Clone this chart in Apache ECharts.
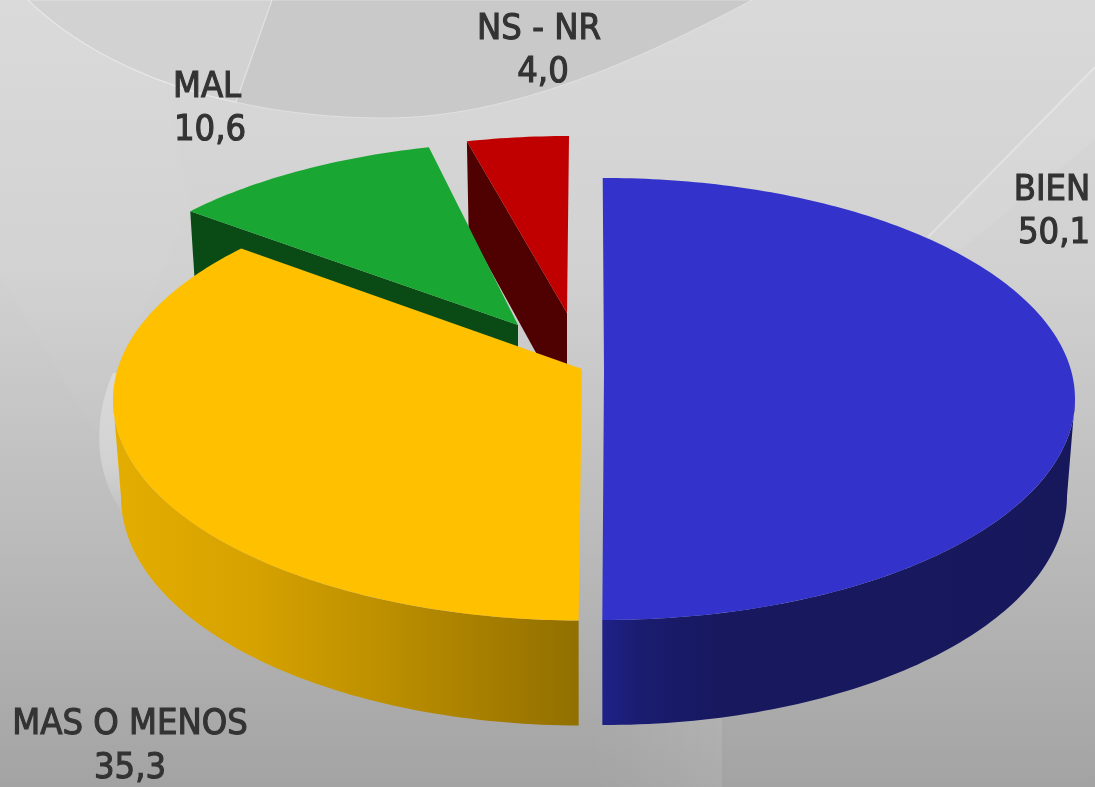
<!DOCTYPE html>
<html>
<head>
<meta charset="utf-8">
<style>html,body{margin:0;padding:0;background:#ccc}#c{width:1095px;height:787px}</style>
<script src="https://cdn.jsdelivr.net/npm/echarts@6/dist/echarts.min.js"></script>
</head>
<body>
<div id="c"></div>
<script>
const categories = ['BIEN', 'MAS O MENOS', 'MAL', 'NS - NR'];
const values = [50.1, 35.3, 10.6, 4.0];

const topColors = ['#3333cc', '#ffc000', '#1aa632', '#c00000'];
const sideColors = ['#16185e', '#b58a00', '#0a4a14', '#4f0000'];
const wallStops = [
  [[0, '#1f2188'], [0.08, '#1a1c70'], [0.25, '#17185e'], [1, '#17185c']],
  [[0, '#e4ad00'], [0.3, '#d6a200'], [0.6, '#bb8e00'], [0.85, '#a17a00'], [1, '#917000']],
  null, null
];
// exploded-slice geometry, one row per slice
const sliceCx = [604, 582, 531, 569];
const sliceCy = [399, 400, 363, 357];
const sliceRx = [471, 469, 469, 469];
const sliceRy = [221, 220.5, 221, 221];
const apexX = [604, 582, 518, 567];
const apexY = [370, 369, 325, 313];
const sliceRot = [-0.18, 0, 0, 0];
const nameX = [1052, 130, 207, 539];
const valueX = [1054, 130, 210, 543];
const nameY = [191, 725, 88, 30];
const valueY = [234, 769, 131, 73];

const persp = 0.136, rimDepth = 97, rimGrow = 8, rimShrink = 8, apexDepth = 96;
const total = values.reduce((a, b) => a + b, 0);

function rim(deg, i, bottom) {
  const t = deg * Math.PI / 180, u = Math.sin(t), v = -Math.cos(t), d = 1 - persp * v;
  const vp = (v - persp) / d, up = u * Math.sqrt(1 - persp * persp) / d;
  const rx = sliceRx[i] - (bottom ? rimShrink : 0), ry = sliceRy[i] + (bottom ? rimGrow : 0);
  return [sliceCx[i] + rx * up, sliceCy[i] + (bottom ? rimDepth : 0) + ry * vp];
}
function arc(a, b, i, bottom) {
  const pts = [], n = Math.max(2, Math.ceil(Math.abs(b - a)));
  for (let j = 0; j <= n; j++) pts.push(rim(a + (b - a) * j / n, i, bottom));
  return pts;
}

function renderItem(params, api) {
  const i = api.value(0), val = api.value(1);
  let before = 0;
  for (let j = 0; j < i; j++) before += values[j];
  const a = before / total * 360 + sliceRot[i];
  const b = (before + val) / total * 360 + sliceRot[i];
  const children = [];
  const apex = [apexX[i], apexY[i]], apexB = [apexX[i], apexY[i] + apexDepth];
  const frontLo = 97.8, frontHi = 262.2;
  const lo = Math.max(a, frontLo), hi = Math.min(b, frontHi);
  if (hi > lo) {
    const pts = arc(lo, hi, i, false).concat(arc(lo, hi, i, true).reverse());
    const xs = pts.map(p => p[0]);
    children.push({
      type: 'polygon', shape: { points: pts },
      style: { fill: new echarts.graphic.LinearGradient(Math.min(...xs), 0, Math.max(...xs), 0,
        wallStops[i].map(s => ({ offset: s[0], color: s[1] })), true) }
    });
  }
  if (a > 270 && a < 360) {
    children.push({
      type: 'polygon',
      shape: { points: [rim(a, i, false), apex, apexB, rim(a, i, true)] },
      style: { fill: sideColors[i] }
    });
  }
  children.push({
    type: 'polygon', shape: { points: [apex].concat(arc(a, b, i, false)) },
    style: { fill: topColors[i] }
  });
  const font = { fontFamily: '"DejaVu Sans Condensed","DejaVu Sans",sans-serif', fontSize: 36, fontWeight: 'normal' };
  children.push({
    type: 'text', z2: 50,
    style: Object.assign({ text: categories[i], x: nameX[i], y: nameY[i], align: 'center',
      verticalAlign: 'middle', fill: '#333333', stroke: '#333333', lineWidth: 1.1 }, font)
  });
  children.push({
    type: 'text', z2: 50,
    style: Object.assign({ text: val.toFixed(1).replace('.', ','), x: valueX[i], y: valueY[i], align: 'center',
      verticalAlign: 'middle', fill: '#333333', stroke: '#333333', lineWidth: 1.1 }, font)
  });
  return { type: 'group', children };
}

function backdrop() {
  return { type: 'group', children: [
    { type: 'path', shape: { pathData: 'M0,275 L97,435 L113,375 L190,210 L150,0 L0,0 Z' },
      style: { fill: 'rgba(255,255,255,0.03)' } },
    { type: 'path', shape: { pathData: 'M28,0 C100,70 230,118 385,118 C510,118 640,60 752,0 Z' },
      style: { fill: '#c9c9c9', stroke: 'rgba(240,240,240,0.5)', lineWidth: 1 } },
    { type: 'path', shape: { pathData: 'M28,0 C85,55 165,88 236,102 L272,0 Z' },
      style: { fill: '#d2d2d2', stroke: 'rgba(240,240,240,0.6)', lineWidth: 1.2 } },
    { type: 'path', shape: { pathData: 'M1095,67 L928,237 L960,250 L1095,140 Z' },
      style: { fill: 'rgba(255,255,255,0.08)' } },
    { type: 'path', shape: { pathData: 'M1095,67 L928,237' },
      style: { fill: 'none', stroke: 'rgba(255,255,255,0.3)', lineWidth: 2 } },
    { type: 'path', shape: { pathData: 'M113,373 C94,415 88,485 140,532 L220,500 L130,373 Z' },
      style: { fill: new echarts.graphic.LinearGradient(0, 0, 0, 1, [
        { offset: 0, color: 'rgba(222,222,222,0.8)' }, { offset: 0.6, color: 'rgba(215,215,215,0.75)' },
        { offset: 1, color: 'rgba(200,200,200,0.15)' }]) } },
    { type: 'rect', shape: { x: 590, y: 700, width: 132, height: 87 },
      style: { fill: new echarts.graphic.LinearGradient(0, 0, 1, 0, [
        { offset: 0, color: 'rgba(255,255,255,0)' }, { offset: 1, color: 'rgba(255,255,255,0.09)' }]) } }
  ] };
}

const chart = echarts.init(document.getElementById('c'), null, { renderer: 'canvas', width: 1095, height: 787 });
chart.setOption({
  animation: false,
  backgroundColor: new echarts.graphic.LinearGradient(0, 0, 0, 1, [
    { offset: 0, color: '#d9d9d9' }, { offset: 0.35, color: '#d1d1d1' },
    { offset: 0.65, color: '#bdbdbd' }, { offset: 1, color: '#a3a3a3' }]),
  series: [
    { type: 'custom', coordinateSystem: 'none', z: 1, silent: true, renderItem: backdrop, data: [[0]] },
    { type: 'custom', coordinateSystem: 'none', z: 5, silent: true, renderItem,
      data: values.map((v, i) => [i, v]).reverse() }
  ]
});
</script>
</body>
</html>
